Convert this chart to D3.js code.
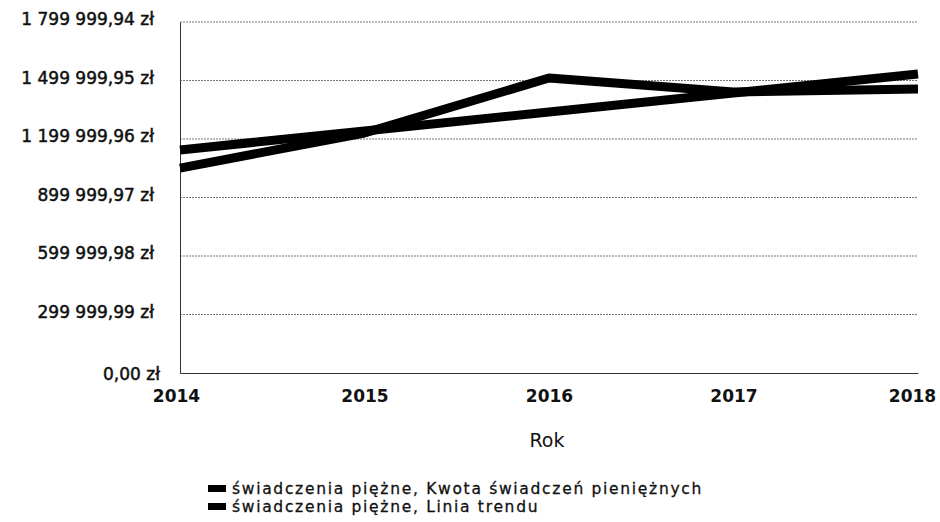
<!DOCTYPE html>
<html>
<head>
<meta charset="utf-8">
<script src="https://cdn.jsdelivr.net/npm/d3@7"></script>
<style>
  body { margin: 0; background: #fff; }
  svg { display: block; font-family: "DejaVu Sans", Verdana, sans-serif; }
</style>
</head>
<body>
<svg width="940" height="522"></svg>
<script>
var years = ["2014", "2015", "2016", "2017", "2018"];
var kwota = [1051000, 1231000, 1513000, 1441000, 1456000];
var trend = [1144000, 1241000, 1338000, 1436000, 1533000];
var yTicks = [0, 299999.99, 599999.98, 899999.97, 1199999.96, 1499999.95, 1799999.94];
var seriesNames = ["świadczenia piężne, Kwota świadczeń pieniężnych", "świadczenia piężne, Linia trendu"];

var svg = d3.select("svg"),
    margin = {top: 22, right: 22, bottom: 149, left: 180},
    width = +svg.attr("width") - margin.left - margin.right,
    height = +svg.attr("height") - margin.top - margin.bottom,
    g = svg.append("g").attr("transform", "translate(" + margin.left + "," + margin.top + ")");

var x = d3.scalePoint().domain(years).range([0, width]);
var y = d3.scaleLinear().domain([0, 1799999.94]).range([height, 0]);

var fmt = function(v) {
  var s = v.toFixed(2).split(".");
  var intPart = s[0].replace(/\B(?=(\d{3})+(?!\d))/g, " ");
  return intPart + "," + s[1] + " zł";
};

// grid
g.selectAll(".grid")
  .data(yTicks.slice(1))
  .enter().append("line")
  .attr("x1", 0).attr("x2", width)
  .attr("y1", function(d) { return y(d); })
  .attr("y2", function(d) { return y(d); })
  .attr("stroke", "#777")
  .attr("stroke-width", 1)
  .attr("stroke-dasharray", "2,1");

// y axis
var yAxis = g.append("g")
  .call(d3.axisLeft(y).tickValues(yTicks).tickSize(0).tickPadding(26).tickFormat(fmt));
yAxis.select(".domain").attr("stroke", "#333");
yAxis.selectAll("text")
  .attr("fill", "#111")
  .attr("stroke", "#111")
  .attr("stroke-width", 0.5)
  .attr("font-size", "17px")
  .attr("font-family", "'DejaVu Sans', sans-serif")
  .attr("dy", "0.15em");
yAxis.selectAll(".tick").filter(function(d) { return d === 0; })
  .select("text").attr("x", -20).attr("dy", "0.4em");

// x axis
var xAxis = g.append("g")
  .attr("transform", "translate(0," + height + ")")
  .call(d3.axisBottom(x).tickSize(0).tickPadding(17));
xAxis.select(".domain").attr("stroke", "#333");
xAxis.selectAll("text")
  .attr("fill", "#111")
  .attr("font-size", "17px")
  .attr("font-weight", "bold")
  .attr("font-family", "'DejaVu Sans', sans-serif");
xAxis.selectAll(".tick").filter(function(d) { return d === "2014"; })
  .select("text").attr("x", -4);
xAxis.selectAll(".tick").filter(function(d) { return d === "2018"; })
  .select("text").attr("x", -6);

svg.append("text")
  .attr("x", margin.left + width / 2 - 2)
  .attr("y", 447)
  .attr("text-anchor", "middle")
  .attr("font-size", "19px")
  .attr("fill", "#111")
  .text("Rok");

// lines
var line = d3.line()
  .x(function(d, i) { return x(years[i]); })
  .y(function(d) { return y(d); });

[kwota, trend].forEach(function(s) {
  g.append("path")
    .datum(s)
    .attr("fill", "none")
    .attr("stroke", "#000")
    .attr("stroke-width", 9)
    .attr("stroke-linejoin", "round")
    .attr("d", line);
});

// legend
var legend = svg.append("g").attr("transform", "translate(208,485)");
var items = legend.selectAll(".item")
  .data(seriesNames)
  .enter().append("g")
  .attr("transform", function(d, i) { return "translate(0," + (i * 18) + ")"; });
items.append("rect")
  .attr("width", 18).attr("height", 7)
  .attr("y", 0)
  .attr("fill", "#000");
items.append("text")
  .attr("x", 24)
  .attr("y", 9)
  .attr("font-size", "15.5px")
  .attr("letter-spacing", "1.7px")
  .attr("fill", "#111")
  .attr("stroke", "#111")
  .attr("stroke-width", 0.3)
  .text(function(d) { return d; });
</script>
</body>
</html>
